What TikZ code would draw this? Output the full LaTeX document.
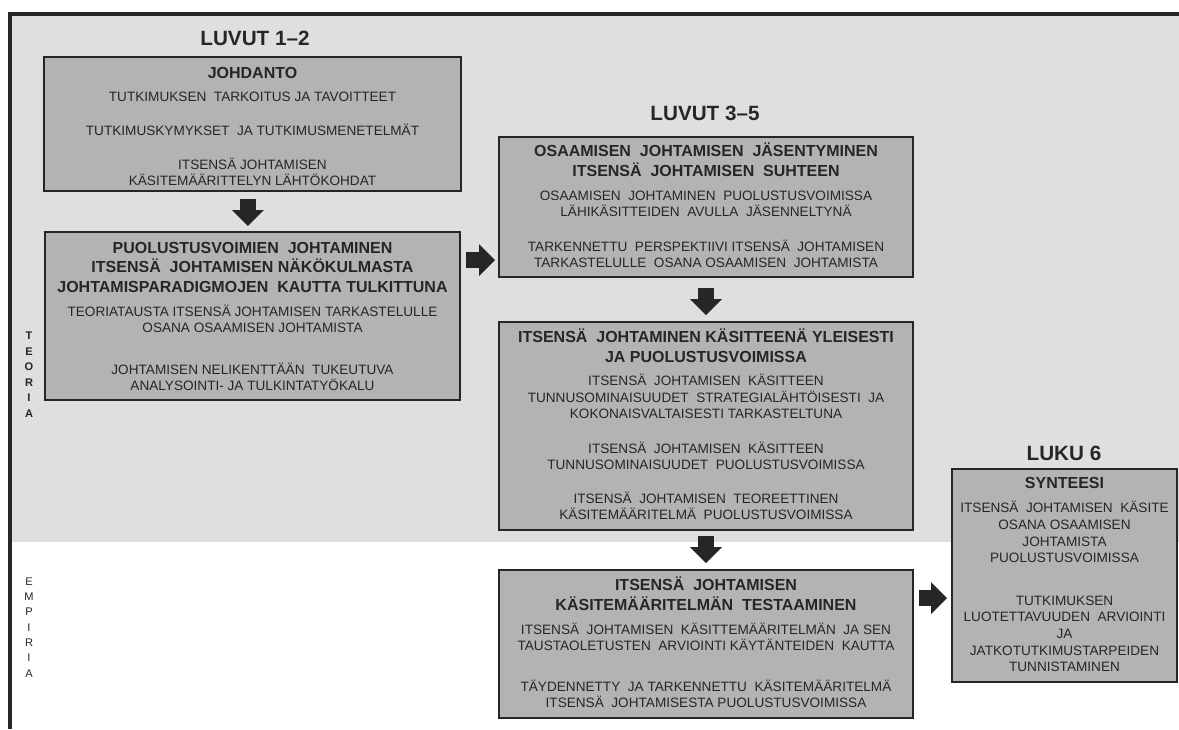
\documentclass[tikz,border=0pt]{standalone}
\usepackage{fontspec}
\setmainfont{Liberation Sans}
\usetikzlibrary{fit,arrows.meta}
\definecolor{panelgray}{HTML}{DFDFDF}
\definecolor{boxgray}{HTML}{B3B3B3}
\definecolor{ink}{HTML}{262626}

\begin{document}
\begin{tikzpicture}[x=0.75pt,y=-0.75pt,
  stagebox/.style={draw=ink, line width=1.5pt, fill=boxgray, inner sep=0pt},
  chapter/.style={font=\fontsize{15.5}{18}\selectfont\bfseries, text=ink, anchor=base, inner sep=0pt},
  head/.style={font=\fontsize{12}{14.8}\selectfont\bfseries, text=ink, anchor=base, align=center, inner sep=0pt},
  body/.style={font=\fontsize{10.2}{12.5}\selectfont, text=ink, anchor=base, align=center, inner sep=0pt},
  side/.style={text=ink, anchor=base, align=center, inner sep=0pt},
  flow/.style={draw=ink, line width=12pt, -{Triangle[width=24pt,length=12pt,line width=0pt]}}
]
\useasboundingbox (0,0) rectangle (1179,729);

% background panel and frame
\fill[panelgray] (10,14) rectangle (1179,542);
\draw[ink, line width=2.4pt] (1179,14) -- (10,14) -- (10,729);

% side labels (anchored at the baseline of their last letter)
\node[side, font=\fontsize{8.3}{11.7}\selectfont\bfseries] (teoria) at (29,417.5) {T\\E\\O\\R\\I\\A};
\node[side, font=\fontsize{8.3}{11.5}\selectfont] (empiria) at (29,677) {E\\M\\P\\I\\R\\I\\A};

% chapter headings
\node[chapter] (ch12) at (255,45.4) {LUVUT 1–2};
\node[chapter] (ch35) at (705,120.4) {LUVUT 3–5};
\node[chapter] (ch6) at (1064,460.4) {LUKU 6};

% stage boxes
\node[stagebox, fit={(44,57) (461,191)}] (b1) {};
\node[stagebox, fit={(45,232) (460,400)}] (b2) {};
\node[stagebox, fit={(499,137) (913,277)}] (b3) {};
\node[stagebox, fit={(499,322) (913,530)}] (b4) {};
\node[stagebox, fit={(499,570) (913,718)}] (b5) {};
\node[stagebox, fit={(952,469) (1177,682)}] (b6) {};

% box texts: each block sits on the baseline of its last line
% box 1
\node[head] (b1h) at (b1.north |- 0,78.6) {JOHDANTO};
\node[body] (b1a) at (b1.north |- 0,101.8) {TUTKIMUKSEN\ \ TARKOITUS JA TAVOITTEET};
\node[body] (b1b) at (b1.north |- 0,135.8) {TUTKIMUSKYMYKSET\ \ JA TUTKIMUSMENETELMÄT};
\node[body] (b1c) at (b1.north |- 0,185.8) {ITSENSÄ JOHTAMISEN\\KÄSITEMÄÄRITTELYN LÄHTÖKOHDAT};

% box 2
\node[head] (b2h) at (b2.north |- 0,292.6) {PUOLUSTUSVOIMIEN\ \ JOHTAMINEN\\ITSENSÄ\ \ JOHTAMISEN NÄKÖKULMASTA\\JOHTAMISPARADIGMOJEN\ \ KAUTTA TULKITTUNA};
\node[body] (b2a) at (b2.north |- 0,332.8) {TEORIATAUSTA ITSENSÄ JOHTAMISEN TARKASTELULLE\\OSANA OSAAMISEN JOHTAMISTA};
\node[body] (b2b) at (b2.north |- 0,390.8) {JOHTAMISEN NELIKENTTÄÄN\ \ TUKEUTUVA\\ANALYSOINTI- JA TULKINTATYÖKALU};

% box 3
\node[head] (b3h) at (b3.north |- 0,176.6) {OSAAMISEN\ \ JOHTAMISEN\ \ JÄSENTYMINEN\\ITSENSÄ\ \ JOHTAMISEN\ \ SUHTEEN};
\node[body] (b3a) at (b3.north |- 0,216.8) {OSAAMISEN\ \ JOHTAMINEN\ \ PUOLUSTUSVOIMISSA\\LÄHIKÄSITTEIDEN\ \ AVULLA\ \ JÄSENNELTYNÄ};
\node[body] (b3b) at (b3.north |- 0,267.8) {TARKENNETTU\ \ PERSPEKTIIVI ITSENSÄ\ \ JOHTAMISEN\\TARKASTELULLE\ \ OSANA OSAAMISEN\ \ JOHTAMISTA};

% box 4
\node[head] (b4h) at (b4.north |- 0,362.6) {ITSENSÄ\ \ JOHTAMINEN KÄSITTEENÄ YLEISESTI\\JA PUOLUSTUSVOIMISSA};
\node[body] (b4a) at (b4.north |- 0,418.8) {ITSENSÄ\ \ JOHTAMISEN\ \ KÄSITTEEN\\TUNNUSOMINAISUUDET\ \ STRATEGIALÄHTÖISESTI\ \ JA\\KOKONAISVALTAISESTI TARKASTELTUNA};
\node[body] (b4b) at (b4.north |- 0,469.8) {ITSENSÄ\ \ JOHTAMISEN\ \ KÄSITTEEN\\TUNNUSOMINAISUUDET\ \ PUOLUSTUSVOIMISSA};
\node[body] (b4c) at (b4.north |- 0,519.8) {ITSENSÄ\ \ JOHTAMISEN\ \ TEOREETTINEN\\KÄSITEMÄÄRITELMÄ\ \ PUOLUSTUSVOIMISSA};

% box 5
\node[head] (b5h) at (b5.north |- 0,610.6) {ITSENSÄ\ \ JOHTAMISEN\\KÄSITEMÄÄRITELMÄN\ \ TESTAAMINEN};
\node[body] (b5a) at (b5.north |- 0,650.8) {ITSENSÄ\ \ JOHTAMISEN\ \ KÄSITTEMÄÄRITELMÄN\ \ JA SEN\\TAUSTAOLETUSTEN\ \ ARVIOINTI KÄYTÄNTEIDEN\ \ KAUTTA};
\node[body] (b5b) at (b5.north |- 0,707.8) {TÄYDENNETTY\ \ JA TARKENNETTU\ \ KÄSITEMÄÄRITELMÄ\\ITSENSÄ\ \ JOHTAMISESTA PUOLUSTUSVOIMISSA};

% box 6
\node[head] (b6h) at (b6.north |- 0,488.6) {SYNTEESI};
\node[body] (b6a) at (b6.north |- 0,562.8) {ITSENSÄ\ \ JOHTAMISEN\ \ KÄSITE\\OSANA OSAAMISEN\\JOHTAMISTA\\PUOLUSTUSVOIMISSA};
\node[body] (b6b) at (b6.north |- 0,671.8) {TUTKIMUKSEN\\LUOTETTAVUUDEN\ \ ARVIOINTI\\JA\\JATKOTUTKIMUSTARPEIDEN\\TUNNISTAMINEN};

% flow arrows between stages
\coordinate (r1) at (0,260);
\coordinate (r2) at (0,598);
\draw[flow, shorten <=5.25pt, shorten >=3.75pt] ([xshift=-3.5pt]b1.south) -- ([xshift=-3.5pt]b2.north);
\draw[flow, shorten <=3.75pt, shorten >=2.25pt] (b2.east |- r1) -- (b3.west |- r1);
\draw[flow, shorten <=7.5pt, shorten >=4.5pt] (b3.south) -- (b4.north);
\draw[flow, shorten <=3.75pt, shorten >=4.5pt] (b4.south) -- (b5.north);
\draw[flow, shorten <=3.75pt, shorten >=3pt] (b5.east |- r2) -- (b6.west |- r2);
\end{tikzpicture}
\end{document}
